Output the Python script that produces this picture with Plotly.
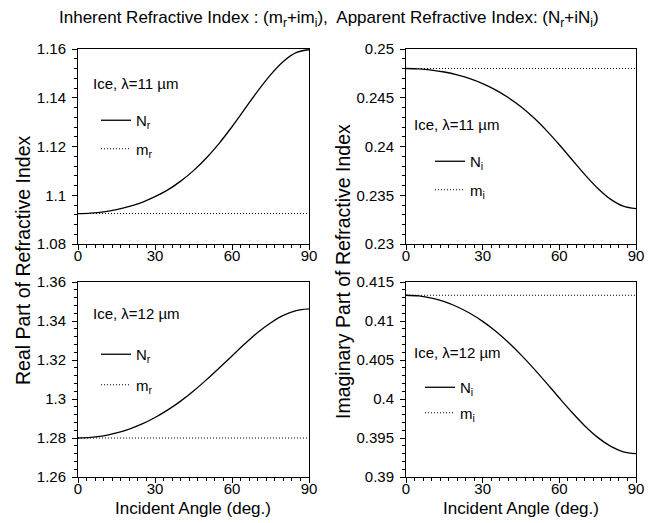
import plotly.graph_objects as go

# ---- data ----
angles = [0, 5, 10, 15, 20, 25, 30, 35, 40, 45, 50, 55, 60, 65, 70, 75, 80, 85, 90]
const_angles = [0, 90]

nr_11 = [1.0925, 1.0927, 1.0932, 1.0941, 1.0954, 1.0971, 1.0994, 1.1022, 1.1058, 1.1101,
         1.1153, 1.1213, 1.1281, 1.1354, 1.1427, 1.1494, 1.1549, 1.1585, 1.1597]
mr_11 = [1.0925, 1.0925]

ni_11 = [0.24800, 0.24796, 0.24784, 0.24764, 0.24735, 0.24696, 0.24645, 0.24581, 0.24502, 0.24407,
         0.24294, 0.24163, 0.24018, 0.23864, 0.23711, 0.23572, 0.23460, 0.23388, 0.23363]
mi_11 = [0.2480, 0.2480]

nr_12 = [1.2800, 1.2803, 1.2811, 1.2826, 1.2846, 1.2872, 1.2905, 1.2944, 1.2989, 1.3041,
         1.3098, 1.3159, 1.3221, 1.3283, 1.3341, 1.3390, 1.3429, 1.3453, 1.3462]
mr_12 = [1.2800, 1.2800]

ni_12 = [0.41330, 0.41321, 0.41294, 0.41248, 0.41183, 0.41099, 0.40995, 0.40871, 0.40727, 0.40566,
         0.40390, 0.40204, 0.40013, 0.39827, 0.39655, 0.39508, 0.39395, 0.39323, 0.39299]
mi_12 = [0.4133, 0.4133]

x_ticks = [0, 30, 60, 90]
title_text = ("Inherent Refractive Index : (m<sub>r</sub>+im<sub>i</sub>),  "
              "Apparent Refractive Index: (N<sub>r</sub>+iN<sub>i</sub>)")
panel_labels = ["Ice, \u03bb=11 \u00b5m", "Ice, \u03bb=11 \u00b5m", "Ice, \u03bb=12 \u00b5m", "Ice, \u03bb=12 \u00b5m"]
FONT = "Liberation Sans, Arial, Helvetica, sans-serif"

# the page body adds an 8px offset; the figure fills the rest of the 658x523 window
OFF = 8
W, H = 658 - OFF, 523 - OFF
fig = go.Figure()

panels = [
    ("x", "y", "legend", nr_11, mr_11, "N<sub>r</sub>", "m<sub>r</sub>"),
    ("x2", "y2", "legend2", ni_11, mi_11, "N<sub>i</sub>", "m<sub>i</sub>"),
    ("x3", "y3", "legend3", nr_12, mr_12, "N<sub>r</sub>", "m<sub>r</sub>"),
    ("x4", "y4", "legend4", ni_12, mi_12, "N<sub>i</sub>", "m<sub>i</sub>"),
]
for i, (xa, ya, lg, cur, con, n1, n2) in enumerate(panels):
    fig.add_trace(go.Scatter(x=angles, y=cur, mode="lines", name=n1, xaxis=xa, yaxis=ya,
                             legend=lg, legendgroup=f"a{i}",
                             line=dict(color="black", width=1.3, shape="spline")))
    fig.add_trace(go.Scatter(x=const_angles, y=con, mode="lines", name=n2, xaxis=xa, yaxis=ya,
                             legend=lg, legendgroup=f"b{i}",
                             line=dict(color="black", width=1, dash="1px,2px")))


def px_x(p):
    return (p - OFF) / W


def px_y(p):
    return (H - (p - OFF)) / H


xdom_l = [px_x(78), px_x(309)]
xdom_r = [px_x(406), px_x(636)]
ydom_t = [px_y(244), px_y(49)]
ydom_b = [px_y(477), px_y(282)]

common = dict(showline=True, mirror=True, linecolor="black", linewidth=1,
              ticks="outside", ticklen=5, tickwidth=1, tickcolor="black",
              showgrid=False, zeroline=False, automargin=False,
              tickfont=dict(family=FONT, size=15, color="black"))


def xax(dom, anchor):
    return dict(domain=dom, anchor=anchor, range=[0, 90], tickvals=x_ticks,
                ticklabelstandoff=-7,
                minor=dict(tick0=0, dtick=10 / 3, ticks="outside", ticklen=3,
                           tickwidth=1, tickcolor="black"),
                **common)


def yax(dom, anchor, rng, dt):
    return dict(domain=dom, anchor=anchor, range=rng, dtick=dt, tick0=rng[0],
                ticklabelstandoff=3,
                minor=dict(tick0=rng[0], dtick=dt / 5, ticks="outside", ticklen=3,
                           tickwidth=1, tickcolor="black"),
                **common)


def legend_cfg(lx, ly, gap):
    return dict(x=px_x(lx), y=px_y(ly), bgcolor="rgba(0,0,0,0)", borderwidth=0,
                xanchor="left", yanchor="top", tracegroupgap=gap,
                font=dict(family=FONT, size=15, color="black"))


fig.update_layout(
    width=W, height=H, margin=dict(l=0, r=0, t=0, b=0, autoexpand=False),
    paper_bgcolor="white", plot_bgcolor="white",
    font=dict(family=FONT, color="black"),
    xaxis=xax(xdom_l, "y"), yaxis=yax(ydom_t, "x", [1.08, 1.16], 0.02),
    xaxis2=xax(xdom_r, "y2"), yaxis2=yax(ydom_t, "x2", [0.23, 0.25], 0.005),
    xaxis3=xax(xdom_l, "y3"), yaxis3=yax(ydom_b, "x3", [1.26, 1.36], 0.02),
    xaxis4=xax(xdom_r, "y4"), yaxis4=yax(ydom_b, "x4", [0.39, 0.415], 0.005),
    legend=legend_cfg(96, 104, 6),
    legend2=legend_cfg(430, 145, 6),
    legend3=legend_cfg(96, 338, 8),
    legend4=legend_cfg(420, 371, 3),
    showlegend=True,
)

fig.add_annotation(text=title_text, x=px_x(329), y=px_y(19), xref="paper", yref="paper",
                   showarrow=False, xanchor="center", yanchor="middle",
                   font=dict(family=FONT, size=17, color="black"))
fig.add_annotation(text="Real Part of Refractive Index", x=px_x(23), y=px_y(260),
                   xref="paper", yref="paper", showarrow=False, textangle=-90,
                   xanchor="center", yanchor="middle",
                   font=dict(family=FONT, size=19.5, color="black"))
fig.add_annotation(text="Imaginary Part of Refractive Index", x=px_x(343), y=px_y(271),
                   xref="paper", yref="paper", showarrow=False, textangle=-90,
                   xanchor="center", yanchor="middle",
                   font=dict(family=FONT, size=19.5, color="black"))
for cx in (193, 521):
    fig.add_annotation(text="Incident Angle (deg.)", x=px_x(cx), y=px_y(508),
                       xref="paper", yref="paper", showarrow=False,
                       xanchor="center", yanchor="middle",
                       font=dict(family=FONT, size=17, color="black"))

label_pos = [(91, 83), (412, 125), (91, 313), (412, 352)]
for txt, (lx, ly) in zip(panel_labels, label_pos):
    fig.add_annotation(text=txt, x=px_x(lx), y=px_y(ly), xref="paper", yref="paper",
                       showarrow=False, xanchor="left", yanchor="middle",
                       font=dict(family=FONT, size=15, color="black"))

fig.write_html("out.html")
